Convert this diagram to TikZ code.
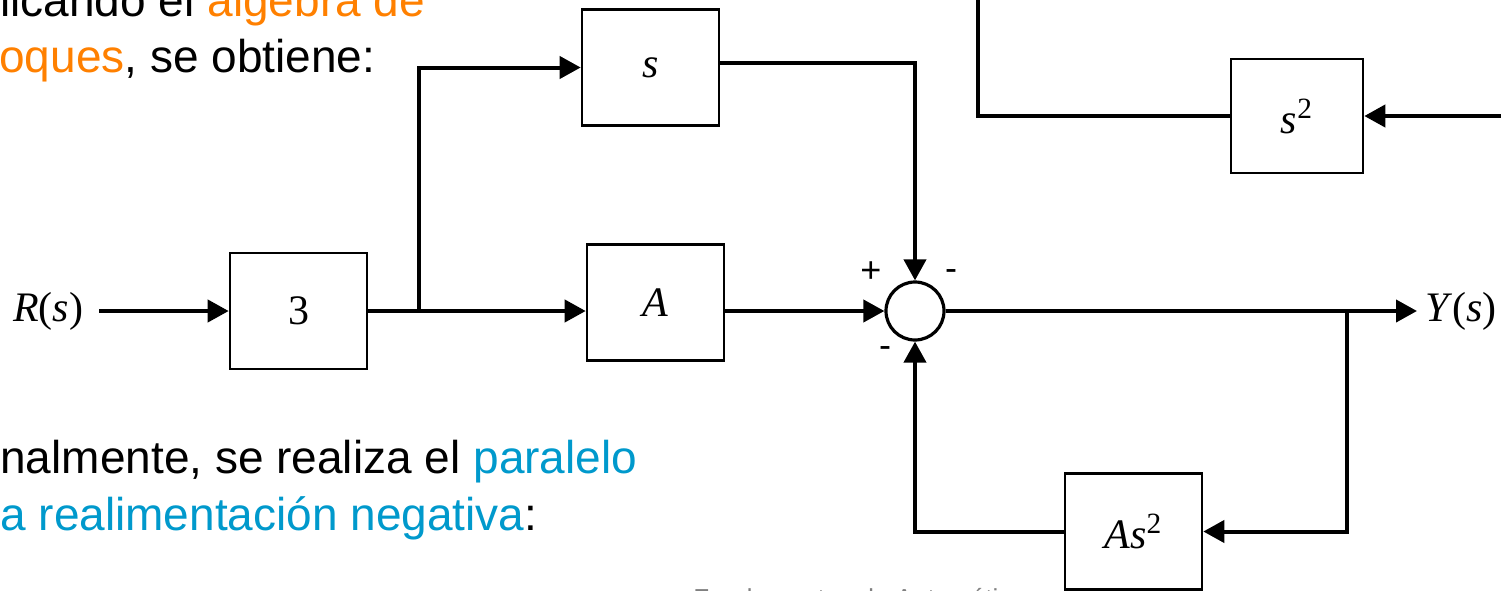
\documentclass[tikz,border=0pt]{standalone}
\usepackage{fontspec}
\setmainfont{Liberation Sans}
\newfontfamily\tnr{Liberation Serif}
\usetikzlibrary{arrows.meta, positioning, calc}
\definecolor{arancio}{RGB}{255,128,0}
\definecolor{celeste}{RGB}{0,153,204}
\definecolor{piede}{RGB}{128,128,128}

\begin{document}
\begin{tikzpicture}[
  x=0.5pt, y=-0.5pt,
  bloque/.style={draw=black, line width=1.3pt, inner sep=0pt,
    minimum width=68.5pt, minimum height=58pt,
    font=\tnr\fontsize{21}{25}\selectfont},
  suma/.style={circle, draw=black, line width=1.6pt, inner sep=0pt, minimum size=29pt},
  segno/.style={inner sep=0pt, font=\fontsize{18}{20}\selectfont},
  senal/.style={inner sep=0pt, font=\tnr\fontsize{21}{25}\selectfont},
  testo/.style={anchor=base west, inner sep=0pt, font=\fontsize{23}{27}\selectfont},
  linea/.style={draw=black, line width=2pt},
  flecha/.style={draw=black, line width=2pt, -{Triangle[length=10.5pt,width=11pt]}}
]

% ---- cornice ----------------------------------------------------------
\useasboundingbox (0,0) rectangle (1501,590);
\clip (0,0) rectangle (1501,590);

%==============================================================
% testi della diapositiva
%==============================================================
\node[testo] (riga1) at (0,16) {licando el \textcolor{arancio}{álgebra de}};
\node[testo] (riga2) at (-1,72) {\textcolor{arancio}{oques}, se obtiene:};
\node[testo] (riga3) at (0,473) {nalmente, se realiza el \textcolor{celeste}{paralelo}};
\node[testo] (riga4) at (0,530) {\textcolor{celeste}{a realimentación negativa}:};
\node[anchor=base west, inner sep=0pt, text=piede, font=\fontsize{13}{15}\selectfont]
  (pie) at (693,607) {Fundamentos de Automática};

%==============================================================
% blocchi
%==============================================================
\node[bloque] (b3)  at (298.5,311)  {3};
\node[bloque] (bs)  at (650.5,67.5) {\textit{s}};
\node[bloque] (bA)  at (655.5,302.5) {\textit{A}};
\node[bloque, minimum width=66pt, minimum height=57pt] (bs2) at (1297,116) {\textit{s}\textsuperscript{2}};
\node[bloque] (bAs) at (1133.5,531.5) {\textit{As}\textsuperscript{2}};
\node[suma] (sum) at (915,311) {};

% segnali
\node[senal] (rs) at (48,311) {\textit{R}(\textit{s})};
\node[senal, anchor=west, inner sep=4pt] (ys) at (1417,311) {\textit{Y}(\textit{s})};

% segni del sommatore
\node[segno] (piu)  at (871,272) {+};
\node[segno] (meno1) at (951,275) {-};
\node[segno] (meno2) at (885,352) {-};

%==============================================================
% collegamenti
%==============================================================
\coordinate (ramo)   at (419,311);
\coordinate (uscita) at (1347,311);
\coordinate (sopra)  at (978,-20);
\coordinate (destra) at (1520,116);

\draw[flecha, shorten <=8pt] (rs.east) -- (b3.west);
\draw[flecha] (b3.east) -- (b3.east -| bA.west);
\draw[flecha] (ramo) |- (bs.west);
\draw[flecha] (bA.east |- sum.west) -- (sum.west);
\draw[flecha] ([yshift=2.25pt]bs.east) -| (sum.north);
\draw[flecha] (sum.east) -- (ys.west);
\draw[flecha] (uscita) |- (bAs.east);
\draw[flecha] (bAs.west) -| (sum.south);

% ramo superiore (tagliato)
\draw[linea] (bs2.west) -| (sopra);
\draw[flecha] (destra) -- (bs2.east);

\end{tikzpicture}
\end{document}
